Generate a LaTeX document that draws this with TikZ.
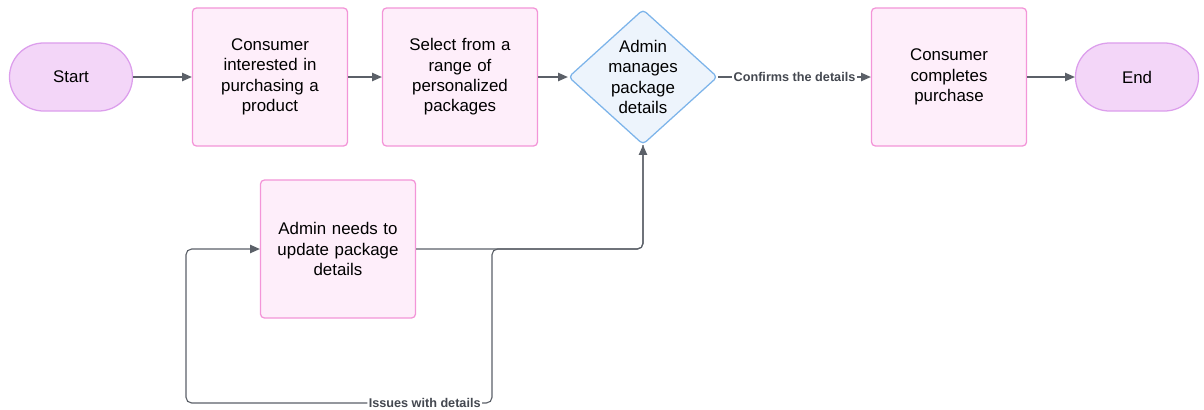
\documentclass[tikz,border=0pt]{standalone}
\usepackage{fontspec}
\setmainfont{Liberation Sans}
\usetikzlibrary{arrows.meta, shapes, positioning, calc}
\definecolor{boxpink}{HTML}{FEEEFA}
\definecolor{boxedge}{HTML}{F395D8}
\definecolor{termfill}{HTML}{F3D6F8}
\definecolor{termedge}{HTML}{DC9EEC}
\definecolor{decfill}{HTML}{EDF4FC}
\definecolor{decedge}{HTML}{7DB4EA}
\definecolor{linegray}{HTML}{5B6068}
\definecolor{labelgray}{HTML}{444850}

\begin{document}
\begin{tikzpicture}[x=0.025cm,y=-0.025cm,
    every node/.style={font=\fontsize{12}{14.5}\selectfont},
    term/.style={draw=termedge,fill=termfill,line width=0.9pt,rounded corners=0.85cm,minimum width=3.075cm,minimum height=1.7cm},
    stepbox/.style={draw=boxedge,fill=boxpink,line width=0.9pt,rounded corners=0.1cm,minimum width=3.875cm,minimum height=3.45cm,text width=3.6cm,align=center},
    decision/.style={diamond,draw=decedge,fill=decfill,line width=0.9pt,rounded corners=0.1cm,inner sep=-2pt,aspect=1.1,minimum width=3.725cm,minimum height=3.375cm,align=center},
    flow/.style={draw=linegray,line width=0.8pt,-{Triangle[length=7pt,width=6pt]}},
    edgetext/.style={fill=white,inner sep=1pt,text=labelgray,font=\fontsize{9}{10}\selectfont\bfseries}]
        \useasboundingbox (0,0) rectangle (1204,409);
        % top row
        \draw (71,77) node[term] (start){Start};
        \draw (270,77) node[stepbox] (interest){Consumer\\interested in\\purchasing a\\product};
        \draw (460,77) node[stepbox] (select){Select from a\\range of\\personalized\\packages};
        \draw (643,77) node[decision] (admin){Admin\\manages\\package\\details};
        \draw (949,77) node[stepbox] (complete){Consumer\\completes\\purchase};
        \draw (1137,77) node[term] (end){End};
        % lower box
        \draw (338,249) node[stepbox] (update){Admin needs to\\update package\\details};
        \coordinate (loopjoin) at (492,249);
        \coordinate (loopR) at (492,403);
        \coordinate (loopL) at (186,403);
        % main flow
        \draw[flow] (start) -- (interest);
        \draw[flow] (interest) -- (select);
        \draw[flow] (select) -- (admin);
        \draw[flow] (admin) -- node[edgetext]{Confirms the details} (complete);
        \draw[flow] (complete) -- (end);
        % loop back
        \draw[flow,rounded corners=4pt] (update.east) -| (admin.south);
        \draw[flow,rounded corners=4pt] (admin.south) |- (loopjoin) -- (loopR) -- node[edgetext,pos=0.22]{Issues with details} (loopL) |- (update.west);
\end{tikzpicture}
\end{document}
